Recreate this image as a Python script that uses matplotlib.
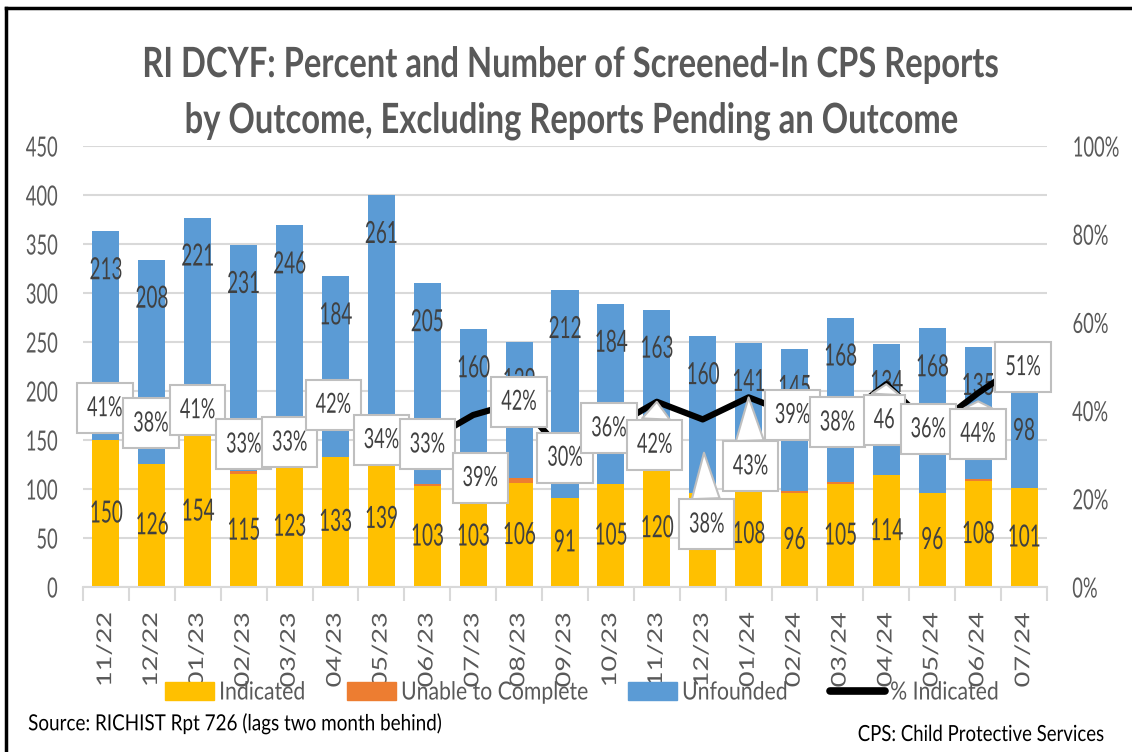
import matplotlib
matplotlib.use("Agg")
import matplotlib.pyplot as plt
from matplotlib.lines import Line2D
from matplotlib.patches import Patch
from matplotlib.path import Path
from matplotlib.patheffects import AbstractPathEffect
from matplotlib.transforms import Affine2D
import numpy as np

# data
months = ["11/22", "12/22", "01/23", "02/23", "03/23", "04/23", "05/23", "06/23",
          "07/23", "08/23", "09/23", "10/23", "11/23", "12/23", "01/24", "02/24",
          "03/24", "04/24", "05/24", "06/24", "07/24"]
indicated = [150, 126, 154, 115, 123, 133, 139, 103, 103, 106, 91, 105, 120, 96,
             108, 96, 105, 114, 96, 108, 101]
unable = [0, 0, 2, 3, 0, 0, 0, 2, 0, 5, 0, 0, 0, 0, 0, 2, 2, 0, 0, 2, 0]
unfounded = [213, 208, 221, 231, 246, 184, 261, 205, 160, 139, 212, 184, 163, 160,
             141, 145, 168, 134, 168, 135, 98]
pct_indicated = [41, 38, 41, 33, 33, 42, 34, 33, 39, 42, 30, 36, 42, 38, 43, 39,
                 38, 46, 36, 44, 51]
pct_text = ["41%", "38%", "41%", "33%", "33%", "42%", "34%", "33%", "39%", "42%",
            "30%", "36%", "42%", "38%", "43%", "39%", "38%", "46", "36%", "44%", "51%"]

# label placement (pixels from the point); callouts that have a pointer -> gap at tip
lab_off = [(-1, -2), (-1, -4), (0, -4), (0, -3), (0, -1), (-2, -3), (0, -3), (0, -3),
           (7, -63), (0, 0), (0, -3), (-2, 0), (-2, -43), (4, -105), (2, -69),
           (-2, 0), (-3, -3), (-2, -36), (-4, -1), (0, -41), (-1, -5)]
pointer = {12: 0, 13: 24, 14: 0, 17: 0, 19: 6}

YEL, ORG, BLU = "#FFC000", "#ED7D31", "#5B9BD5"
TXT = "#595959"
VAL = "#404040"
plt.rcParams["font.family"] = ["Lato", "DejaVu Sans"]


class Squeeze(AbstractPathEffect):
    # narrow the glyphs (the source chart uses a squeezed Calibri)
    def __init__(self, sx=1.0, sy=1.0, anchor="center"):
        super().__init__()
        self.sx, self.sy, self.anchor = sx, sy, anchor

    def draw_path(self, renderer, gc, tpath, affine, rgbFace=None):
        ext = tpath.get_extents()
        cx = {"left": ext.x0, "right": ext.x1}.get(self.anchor, (ext.x0 + ext.x1) / 2)
        cy = (ext.y0 + ext.y1) / 2
        pre = Affine2D().translate(-cx, -cy).scale(self.sx, self.sy).translate(cx, cy)
        renderer.draw_path(gc, tpath, pre + affine, rgbFace)


def squeeze(texts, sx=1.0, sy=1.0, anchor="center"):
    for t in texts:
        t.set_path_effects([Squeeze(sx, sy, anchor)])


PCT_SX = 0.65


def label_box(x0, y0, width, height, mutation_size):
    bw = width * PCT_SX + 20
    bh = 50
    cx, cy = x0 + width / 2, y0 + height / 2
    return Path([(cx - bw / 2, cy - bh / 2), (cx + bw / 2, cy - bh / 2),
                 (cx + bw / 2, cy + bh / 2), (cx - bw / 2, cy + bh / 2),
                 (cx - bw / 2, cy - bh / 2)], closed=True)


fig = plt.figure(figsize=(11.32, 7.52), dpi=100)
ax = fig.add_axes([83 / 1132, 1 - 587 / 752, 964 / 1132, 441 / 752])
ax2 = ax.twinx()

x = np.arange(len(months))
ind = np.array(indicated)
una = np.array(unable)
unf = np.array(unfounded)
w = 0.59

b1 = ax.bar(x, ind, w, color=YEL, zorder=2)
ax.bar(x, una, w, bottom=ind, color=ORG, zorder=2)
ax.bar(x, unf, w, bottom=ind + una, color=BLU, zorder=2)

vals = ax.bar_label(b1, labels=[str(v) for v in indicated], label_type="center",
                    fontsize=22, color=VAL, padding=0)
squeeze(vals, 0.62)
tops = ind + una + unf
for i in range(len(x)):
    t = ax.annotate(str(unfounded[i]), (x[i], tops[i]), xytext=(0, -39),
                    textcoords="offset pixels", ha="center", va="center",
                    fontsize=22, color=VAL, zorder=3)
    squeeze([t], 0.62)

ax.set_xlim(-0.5, len(x) - 0.5)
ax.set_ylim(0, 450)
ax.set_yticks(np.arange(0, 451, 50))
ax.yaxis.grid(True, color="#D9D9D9", lw=1.5, zorder=0)
ax.set_axisbelow(True)
for s in ["top", "left", "right"]:
    ax.spines[s].set_visible(False)
    ax2.spines[s].set_visible(False)
ax.spines["bottom"].set_color("#D9D9D9")
ax.spines["bottom"].set_linewidth(1.5)
ax2.spines["bottom"].set_visible(False)

ax.set_xticks(x)
ax.set_xticklabels(months, rotation=90, fontsize=19.5, color=TXT)
ax.set_xticks(np.arange(-0.5, len(x), 1), minor=True)
ax.tick_params(axis="x", which="major", length=0, pad=18)
ax.tick_params(axis="x", which="minor", length=10, color="#D9D9D9", width=1.5)
ax.tick_params(axis="y", length=0, pad=18, labelsize=20, labelcolor=TXT)
squeeze(ax.get_xticklabels(), 1.0, 0.75)
squeeze(ax.get_yticklabels(), 0.66, 1.0, "right")

# % indicated line
pct = np.array(pct_indicated) / 100
ax2.plot(x, pct, color="black", lw=4.5, solid_capstyle="round", zorder=2)
ax2.set_ylim(0, 1)
ax2.set_yticks(np.arange(0, 1.01, 0.2))
ax2.set_yticklabels([f"{int(round(v * 100))}%" for v in np.arange(0, 1.01, 0.2)])
ax2.tick_params(axis="y", length=0, pad=18, labelsize=20, labelcolor=TXT)
squeeze(ax2.get_yticklabels(), 0.66, 1.0, "left")

box = dict(boxstyle=label_box, fc="white", ec="#BFBFBF", lw=1.5)
for i in range(len(x)):
    arrow = None
    if i in pointer:
        arrow = dict(arrowstyle="wedge,tail_width=1.0,shrink_factor=0.5",
                     fc="white", ec="#BFBFBF", lw=1.5, shrinkA=0, shrinkB=pointer[i])
    t = ax2.annotate(pct_text[i], (x[i], pct[i]), xytext=lab_off[i],
                     textcoords="offset pixels", ha="center", va="center",
                     fontsize=20, color=VAL, bbox=box, arrowprops=arrow, zorder=5)
    squeeze([t], PCT_SX)

renderer = fig.canvas.get_renderer()


def fit(t, width_px, anchor="center"):
    sx = width_px / t.get_window_extent(renderer).width
    squeeze([t], sx, 1.0, anchor)
    return sx


# title
t1 = fig.text(570 / 1132, 1 - 77 / 752, "RI DCYF: Percent and Number of Screened-In CPS Reports",
              ha="center", va="baseline", fontsize=30, fontweight="bold", color=TXT)
sx_title = fit(t1, 856)
t2 = fig.text(571 / 1132, 1 - 133 / 752, "by Outcome, Excluding Reports Pending an Outcome",
              ha="center", va="baseline", fontsize=30, fontweight="bold", color=TXT)
squeeze([t2], sx_title)

# legend, one entry per block like the source
probe = fig.text(0, 0, "Unable to Complete", fontsize=18)
sx_leg = 187 / probe.get_window_extent(renderer).width
probe.remove()

legend_items = [(Patch(color=YEL), "Indicated", 165),
                (Patch(color=ORG), "Unable to Complete", 347),
                (Patch(color=BLU), "Unfounded", 628),
                (Line2D([], [], color="black", lw=5.5, solid_capstyle="round"), "% Indicated", 830)]
for h, name, x_left in legend_items:
    hl = 2.2 if name == "% Indicated" else 1.95
    leg = fig.legend([h], [name], loc="center left",
                     bbox_to_anchor=(x_left / 1132, 1 - 692 / 752), frameon=False,
                     fontsize=18, labelcolor=TXT, handlelength=hl, handleheight=0.72,
                     handletextpad=0.2, borderpad=0, borderaxespad=0)
    squeeze(leg.get_texts(), sx_leg, 1.0, "left")

src = fig.text(28 / 1132, 1 - 724 / 752, "Source: RICHIST Rpt 726 (lags two month behind)",
               ha="left", va="center", fontsize=16, color="black")
fit(src, 415, "left")
cps = fig.text(1105 / 1132, 1 - 735 / 752, "CPS: Child Protective Services",
               ha="right", va="center", fontsize=16, color="black")
fit(cps, 247, "right")

# outer frame
fig.add_artist(Line2D([6 / 1132, 1], [1 - 8 / 752, 1 - 8 / 752], color="black", lw=2.5))
fig.add_artist(Line2D([6 / 1132, 6 / 1132], [0, 1 - 8 / 752], color="black", lw=2.5))

fig.savefig("out.png", dpi=100)
